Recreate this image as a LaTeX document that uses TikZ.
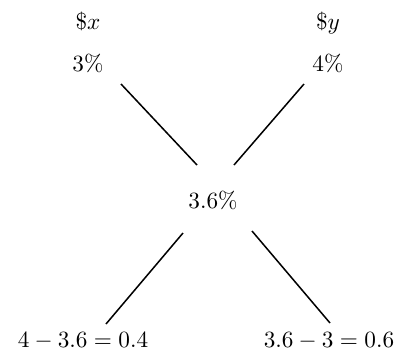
\documentclass[tikz,border=0pt]{standalone}
\usepackage{amsmath}
\usepackage{tikz}
\usetikzlibrary{calc}
\definecolor{mydark}{RGB}{0,0,0}
\tikzset{
  lbl/.style={anchor=base, inner sep=0pt, color=mydark, font=\normalsize},
  line/.style={line width=0.65pt, color=mydark}
}
\begin{document}
\begin{tikzpicture}[x=0.43pt, y=-0.43pt]
  \useasboundingbox (0,0) rectangle (404,360);

  % Top rates
  \node[lbl] (DX) at (88, 29) {\$$x$};
  \node[lbl] (PX) at (88, 71) {3\%};
  \node[lbl] (DY) at (328, 29) {\$$y$};
  \node[lbl] (PY) at (328, 71) {4\%};

  % Mean rate
  \node[lbl] (PM) at (213, 208) {3.6\%};

  % Differences
  \node[lbl] (LX) at (83, 347) {$4-3.6=0.4$};
  \node[lbl] (LY) at (329, 347) {$3.6-3=0.6$};

  % Cross lines
  \draw[line] ($(PX.base)+(33,13)$) -- ($(PM.base)+(-16,-43)$);
  \draw[line] ($(PY.base)+(-24,13)$) -- ($(PM.base)+(21,-43)$);
  \draw[line] ($(PM.base)+(-30,25)$) -- ($(LX.base)+(23,-23)$);
  \draw[line] ($(PM.base)+(39,23)$) -- ($(LY.base)+(1,-24)$);
\end{tikzpicture}
\end{document}
